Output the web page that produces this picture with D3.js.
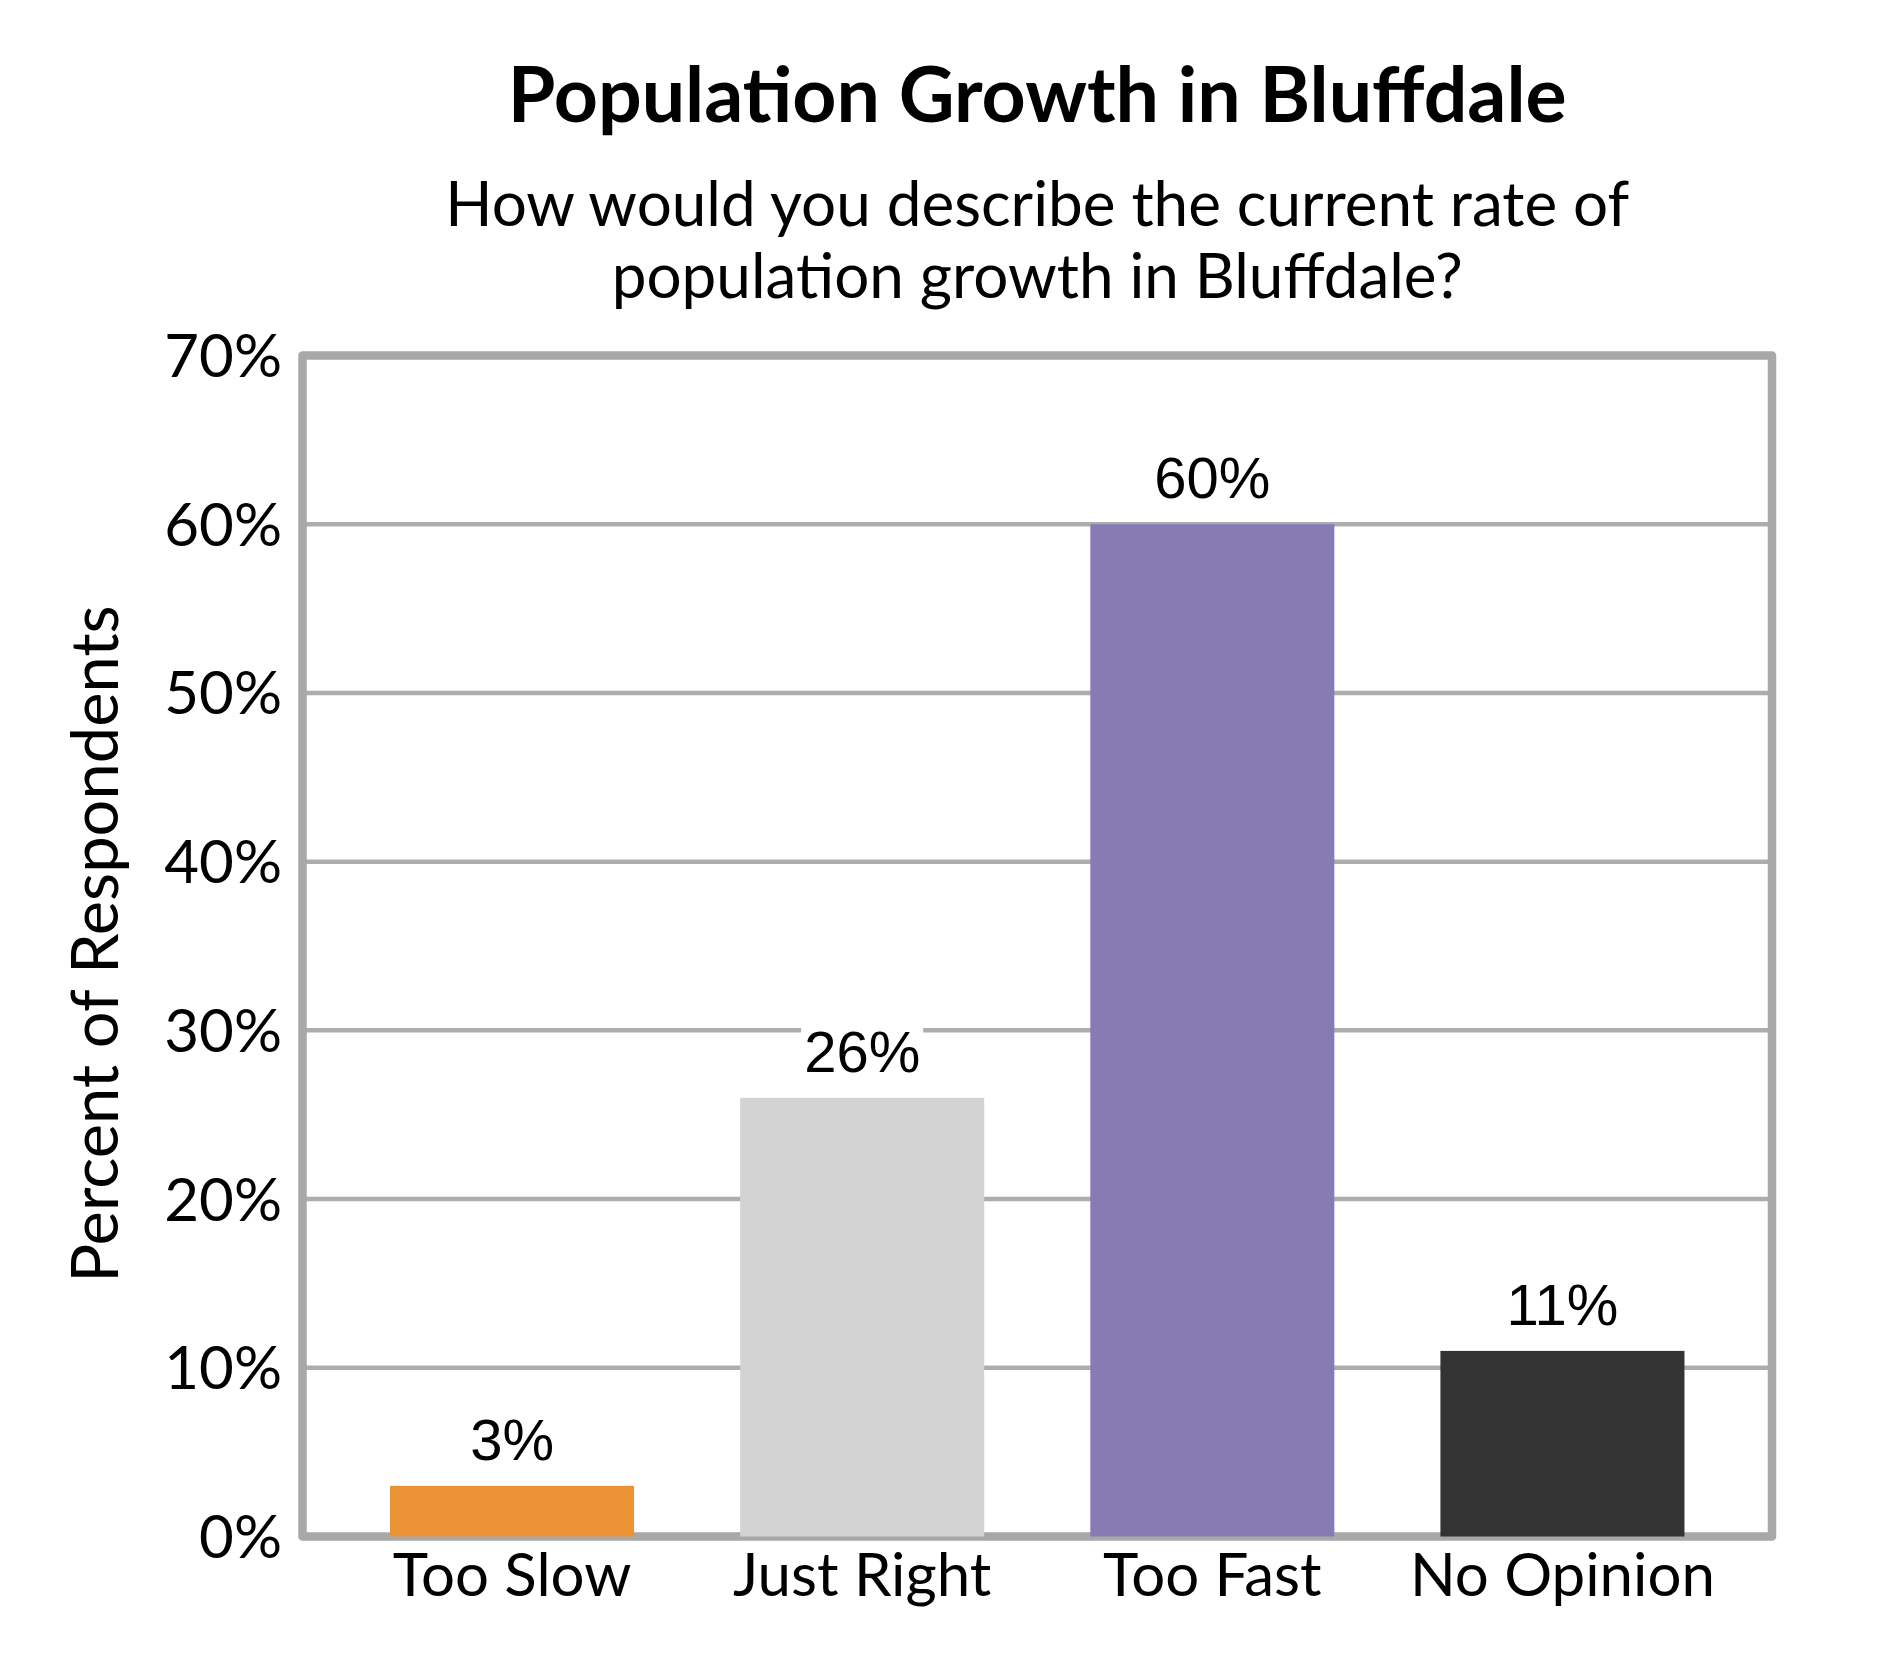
<!doctype html>
<html>

<head>
    <title> Population Growth in Bluffdale </title>
    <script src="https://d3js.org/d3.v7.min.js"> </script>
    <style>
        body { margin: 0; background: white; }
    </style>
</head>

<body>

    <div id = "chart"> </div>

    <script>

        // Data

        var categories = ["Too Slow", "Just Right", "Too Fast", "No Opinion"];
        var values = [3, 26, 60, 11];
        var yTicks = [0, 10, 20, 30, 40, 50, 60, 70];
        var barColors = ["#eb9334", "#d3d3d3", "#877bb4", "#333333"];

        var titleText = "Population Growth in Bluffdale";
        var subtitleLines = ["How would you describe the current rate of", "population growth in Bluffdale?"];
        var yTitle = "Percent of Respondents";

        // Layout

        const canvasWidth = 1890;
        const canvasHeight = 1680;
        const plotLeft = 302.5, plotRight = 1772, plotTop = 355.5, plotBottom = 1536.5;
        const frameColor = "#a8a8a8";
        const calibriLike = "Lato, 'Open Sans', sans-serif";

        var canvas = d3.select("#chart")
            .append("svg")
            .attr("width", canvasWidth)
            .attr("height", canvasHeight);

        var x = d3.scaleBand()
            .domain(categories)
            .range([plotLeft, plotRight])
            .paddingInner(0.303)
            .paddingOuter(0.25);

        var y = d3.scaleLinear()
            .domain([0, 70])
            .range([plotBottom, plotTop]);

        // Titles

        canvas.append("text")
            .attr("x", (plotLeft + plotRight) / 2)
            .attr("y", 122)
            .attr("text-anchor", "middle")
            .attr("font-family", calibriLike)
            .attr("font-weight", "bold")
            .attr("font-size", 77)
            .text(titleText);

        canvas.selectAll("text.subtitle")
            .data(subtitleLines)
            .enter()
            .append("text")
                .attr("class", "subtitle")
                .attr("x", (plotLeft + plotRight) / 2)
                .attr("y", function(d, i){return 226 + i*72;})
                .attr("text-anchor", "middle")
                .attr("font-family", calibriLike)
                .attr("font-size", 62)
                .text(function(d){return d;});

        // Gridlines (not at 0 or 70, the frame covers those)

        canvas.selectAll("line.grid")
            .data(yTicks.slice(1, -1))
            .enter()
            .append("line")
                .attr("class", "grid")
                .attr("x1", plotLeft)
                .attr("x2", plotRight)
                .attr("y1", function(d){return y(d);})
                .attr("y2", function(d){return y(d);})
                .attr("stroke", "#adadad")
                .attr("stroke-width", 4.5);

        // Frame

        canvas.append("rect")
            .attr("x", plotLeft)
            .attr("y", plotTop)
            .attr("width", plotRight - plotLeft)
            .attr("height", plotBottom - plotTop)
            .attr("fill", "none")
            .attr("stroke", frameColor)
            .attr("stroke-width", 8.5)
            .attr("stroke-linejoin", "round");

        // Bars

        canvas.selectAll("rect.bar")
            .data(values)
            .enter()
            .append("rect")
                .attr("class", "bar")
                .attr("x", function(d, i){return x(categories[i]);})
                .attr("width", x.bandwidth())
                .attr("y", function(d){return y(d);})
                .attr("height", function(d){return plotBottom - y(d);})
                .attr("fill", function(d, i){return barColors[i];});

        // Value labels, on a white box so gridlines stop behind them

        var labels = canvas.selectAll("g.label")
            .data(values)
            .enter()
            .append("g")
                .attr("class", "label")
                .attr("transform", function(d, i){return "translate(" + (x(categories[i]) + x.bandwidth()/2) + "," + (y(d) - 26) + ")";});

        labels.append("text")
            .attr("text-anchor", "middle")
            .attr("font-family", "'Liberation Sans', Arial, sans-serif")
            .attr("font-size", 58)
            .text(function(d){return d + "%";});

        labels.each(function(){
            var g = d3.select(this);
            var box = g.select("text").node().getBBox();
            g.insert("rect", "text")
                .attr("x", box.x - 3)
                .attr("y", box.y + 4)
                .attr("width", box.width + 6)
                .attr("height", box.height - 4)
                .attr("fill", "white");
        });

        // Y axis labels

        var yAxis = d3.axisLeft(y)
            .tickValues(yTicks)
            .tickFormat(function(d){return d + "%";})
            .tickSize(0)
            .tickPadding(0);

        var yAxisG = canvas.append("g")
            .attr("transform", "translate(282,0)")
            .call(yAxis);
        yAxisG.select(".domain").remove();
        yAxisG.selectAll("text")
            .attr("font-family", calibriLike)
            .attr("font-size", 60)
            .attr("fill", "black")
            .attr("dy", 21);

        // X axis labels

        var xAxis = d3.axisBottom(x).tickSize(0).tickPadding(0);

        var xAxisG = canvas.append("g")
            .attr("transform", "translate(0,1596)")
            .call(xAxis);
        xAxisG.select(".domain").remove();
        xAxisG.selectAll("text")
            .attr("font-family", calibriLike)
            .attr("font-size", 60)
            .attr("fill", "black")
            .attr("y", 0)
            .attr("dy", 0);

        // Y axis title

        canvas.append("text")
            .attr("transform", "translate(118," + 944 + ") rotate(-90)")
            .attr("text-anchor", "middle")
            .attr("font-family", calibriLike)
            .attr("font-size", 65)
            .text(yTitle);

    </script>

</body>

</html>
